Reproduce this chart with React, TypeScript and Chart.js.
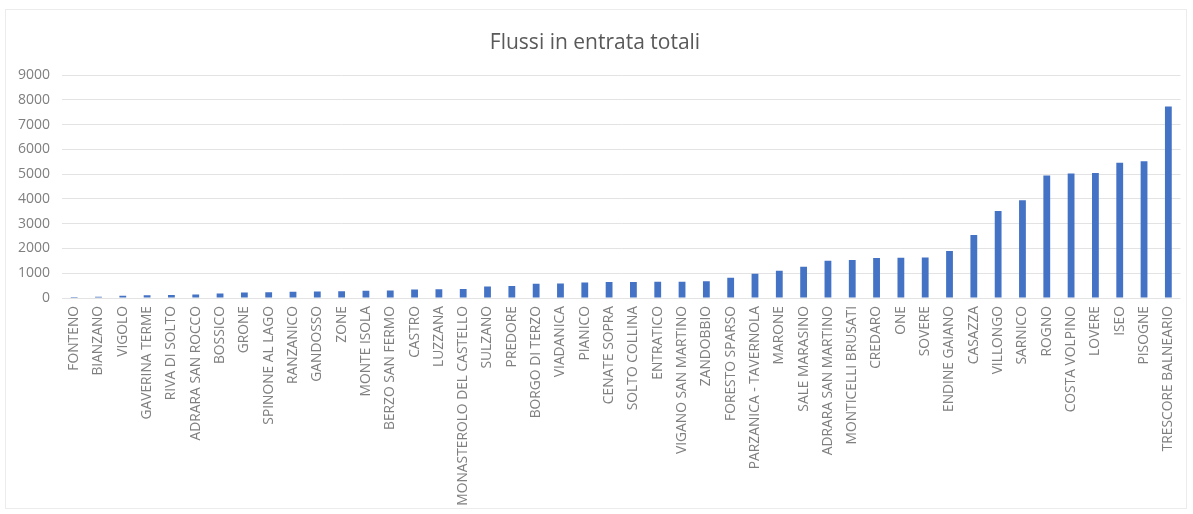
import React, { useEffect, useRef } from "react";
import { Chart, registerables } from "chart.js";

Chart.register(...registerables);

const TITLE = "Flussi in entrata totali";

const comuni: string[] = [
  "FONTENO", "BIANZANO", "VIGOLO", "GAVERINA TERME", "RIVA DI SOLTO", "ADRARA SAN ROCCO",
  "BOSSICO", "GRONE", "SPINONE AL LAGO", "RANZANICO", "GANDOSSO", "ZONE", "MONTE ISOLA",
  "BERZO SAN FERMO", "CASTRO", "LUZZANA", "MONASTEROLO DEL CASTELLO", "SULZANO", "PREDORE",
  "BORGO DI TERZO", "VIADANICA", "PIANICO", "CENATE SOPRA", "SOLTO COLLINA", "ENTRATICO",
  "VIGANO SAN MARTINO", "ZANDOBBIO", "FORESTO SPARSO", "PARZANICA - TAVERNOLA", "MARONE",
  "SALE MARASINO", "ADRARA SAN MARTINO", "MONTICELLI BRUSATI", "CREDARO", "ONE", "SOVERE",
  "ENDINE GAIANO", "CASAZZA", "VILLONGO", "SARNICO", "ROGNO", "COSTA VOLPINO", "LOVERE",
  "ISEO", "PISOGNE", "TRESCORE BALNEARIO",
];

const flussiTotali: number[] = [
  40, 50, 90, 110, 120, 140,
  180, 220, 230, 250, 260, 270, 290,
  300, 340, 350, 360, 460, 480,
  580, 590, 630, 650, 650, 660,
  660, 680, 820, 980, 1100,
  1260, 1500, 1530, 1620, 1630, 1640,
  1900, 2540, 3510, 3950, 4950, 5030, 5050,
  5460, 5520, 7740,
];

const yMin = 0;
const yMax = 9000;
const yStep = 1000;

export default function App() {
  const canvasRef = useRef<HTMLCanvasElement | null>(null);

  useEffect(() => {
    if (!canvasRef.current) return;
    const chart = new Chart(canvasRef.current, {
      type: "bar",
      data: {
        labels: comuni,
        datasets: [
          {
            label: TITLE,
            data: flussiTotali,
            backgroundColor: "#4472C4",
            borderWidth: 0,
            categoryPercentage: 1,
            barPercentage: 0.28,
          },
        ],
      },
      options: {
        animation: false,
        responsive: false,
        maintainAspectRatio: false,
        layout: { padding: { left: 5, right: 8, top: 0, bottom: 0 } },
        plugins: {
          legend: { display: false },
          tooltip: { enabled: false },
          title: {
            display: true,
            text: TITLE,
            color: "#595959",
            font: { family: "'Open Sans', sans-serif", size: 21, weight: "normal" },
            padding: { top: 30, bottom: 20 },
          },
        },
        scales: {
          x: {
            grid: { display: false, drawTicks: false },
            border: { display: false },
            ticks: {
              autoSkip: false,
              minRotation: 90,
              maxRotation: 90,
              padding: 8,
              color: "#7f7f7f",
              font: { family: "'Open Sans', sans-serif", size: 13.8 },
            },
            afterFit: (scale: any) => {
              scale.height = 216;
            },
          },
          y: {
            min: yMin,
            max: yMax,
            grid: { color: "#e3e3e3", drawTicks: false, lineWidth: 1 },
            border: { display: false },
            ticks: {
              stepSize: yStep,
              padding: 12,
              color: "#7f7f7f",
              font: { family: "'Open Sans', sans-serif", size: 14 },
              callback: (v: any) => String(v),
            },
            afterFit: (scale: any) => {
              scale.width = 57;
            },
          },
        },
      },
    });
    return () => chart.destroy();
  }, []);

  return (
    <div style={{ position: "fixed", left: 0, top: 0, width: 1193, height: 514, background: "#fff" }}>
      <div
        style={{
          position: "absolute",
          left: 5,
          top: 9,
          width: 1182,
          height: 500,
          border: "1px solid #ececec",
          boxSizing: "border-box",
        }}
      />
      <canvas ref={canvasRef} width={1193} height={514} style={{ position: "absolute", left: 0, top: 0 }} />
    </div>
  );
}
